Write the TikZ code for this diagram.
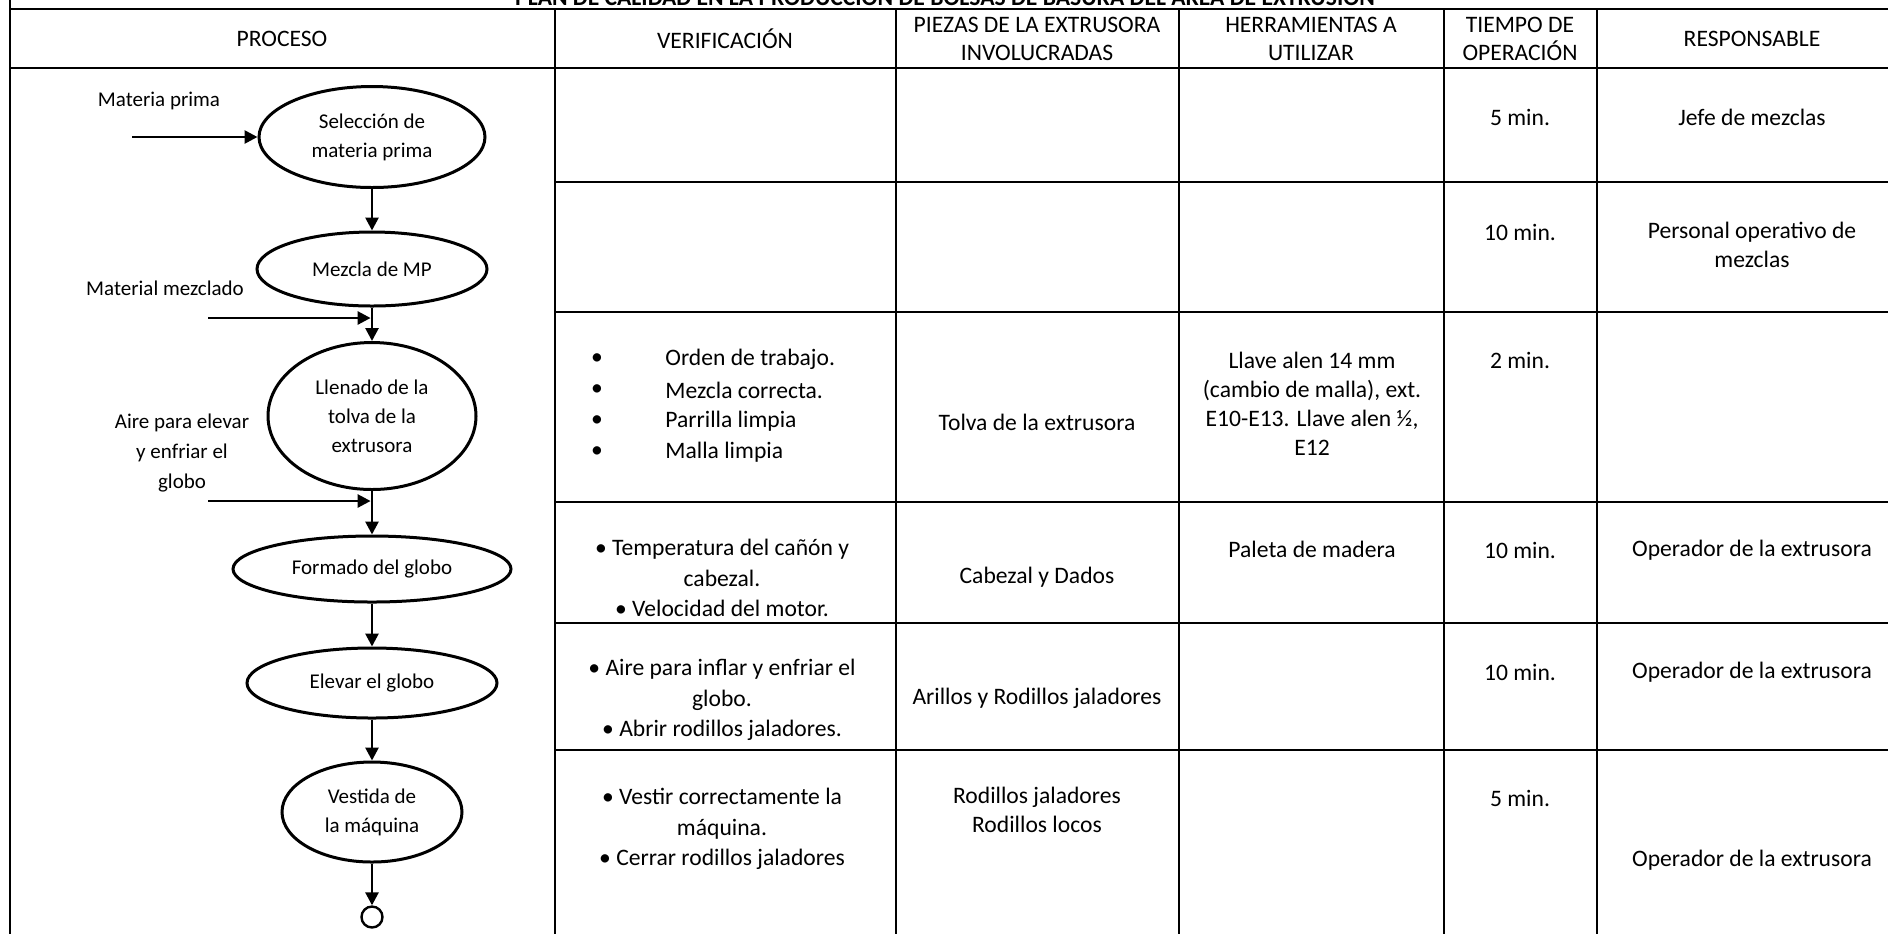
\documentclass[tikz,border=0pt]{standalone}
\usepackage{fontspec}
\setmainfont{Carlito}
\usetikzlibrary{shapes.geometric,arrows.meta}
\tikzstyle{etapa}=[draw=black,ellipse,line width=1.5pt,inner sep=0pt,align=center,font=\fontsize{10.5}{14.5}\selectfont]
\tikzstyle{etiq}=[align=center,inner sep=0pt,font=\fontsize{10.5}{15}\selectfont]
\tikzstyle{celda}=[align=center,inner sep=0pt,font=\fontsize{11.8}{14.5}\selectfont]
\tikzstyle{cabeza}=[align=center,inner sep=0pt,font=\fontsize{11.8}{14}\selectfont]
\tikzstyle{flecha}=[line width=1.35pt,-{Triangle[length=6.5pt,width=6.5pt]}]
\tikzstyle{regla}=[line width=1pt]

\begin{document}
\begin{tikzpicture}[x=0.5pt,y=-0.5pt]
	\useasboundingbox (0,0) rectangle (1888,934);
	\clip (0,0) rectangle (1888,934);

	% tabla
	\node[anchor=base,inner sep=0pt,font=\fontsize{11.8}{14}\selectfont\bfseries] (titulo) at (945,5)
		{PLAN DE CALIDAD EN LA PRODUCCIÓN DE BOLSAS DE BASURA DEL ÁREA DE EXTRUSIÓN};
	\draw[regla] (10,0) -- (10,934);
	\foreach \x in {555,896,1179,1444,1597} \draw[regla] (\x,9) -- (\x,934);
	\foreach \y in {9,68} \draw[regla] (10,\y) -- (1888,\y);
	\foreach \y in {182,312,502,623,750} \draw[regla] (555,\y) -- (1888,\y);

	\node[cabeza] (h1) at (282,39) {PROCESO};
	\node[cabeza] (h2) at (725,39) {VERIFICACIÓN};
	\node[cabeza] (h3) at (1037,39) {PIEZAS DE LA EXTRUSORA\\INVOLUCRADAS};
	\node[cabeza] (h4) at (1311,39) {HERRAMIENTAS A\\UTILIZAR};
	\node[cabeza] (h5) at (1520,39) {TIEMPO DE\\OPERACIÓN};
	\node[cabeza] (h6) at (1752,39) {RESPONSABLE};

	% columna del proceso
	\node[etapa,minimum width=113pt,minimum height=50.5pt] (sel) at (372,137) {Selección de\\materia prima};
	\node[etapa,minimum width=115pt,minimum height=37pt] (mez) at (372,269) {Mezcla de MP};
	\node[etapa,minimum width=104pt,minimum height=73.5pt] (llen) at (372,416) {Llenado de la\\tolva de la\\extrusora};
	\node[etapa,minimum width=139pt,minimum height=33pt] (form) at (372,569) {Formado del globo};
	\node[etapa,minimum width=125pt,minimum height=35pt] (elev) at (372,683) {Elevar el globo};
	\node[etapa,minimum width=90pt,minimum height=50pt] (vest) at (372,812) {Vestida de\\la máquina};
	\node[draw,circle,line width=1.2pt,minimum size=10.5pt,inner sep=0pt] (fin) at (372,917) {};

	\node[etiq] (l1) at (159,101) {Materia prima};
	\node[etiq] (l2) at (165,288) {Material mezclado};
	\node[etiq] (l3) at (182,453) {Aire para elevar\\y enfriar el\\globo};

	\coordinate (e1) at (132,137);
	\coordinate (e2) at (208,318);
	\coordinate (e3) at (208,501);

	\draw[flecha] (e1) -- (sel);
	\draw[flecha] (sel) -- (mez);
	\draw[flecha] (mez) -- (llen);
	\draw[flecha] (llen) -- (form);
	\draw[flecha] (form) -- (elev);
	\draw[flecha] (elev) -- (vest);
	\draw[flecha] (vest) -- (fin);
	\draw[flecha,shorten >=0.7pt] (e2) -- (e2 -| mez.south);
	\draw[flecha,shorten >=0.7pt] (e3) -- (e3 -| llen.south);

	% filas
	\node[celda] (t1) at (1520,117) {5 min.};
	\node[celda] (r1) at (1752,117) {Jefe de mezclas};

	\node[celda] (t2) at (1520,232) {10 min.};
	\node[celda] (r2) at (1752,245) {Personal operativo de\\mezclas};

	\foreach \t [count=\i] in {Orden de trabajo., Mezcla correcta., Parrilla limpia, Malla limpia}
	{
		\node[celda] (p\i) at (597,328+31*\i) {\textbullet};
		\node[celda,anchor=west] (v\i) at (665,328+31*\i) {\t};
	}
	\node[celda] (z3) at (1037,422) {Tolva de la extrusora};
	\node[celda] (q3) at (1312,404) {Llave alen 14 mm\\(cambio de malla), ext.\\E10-E13. Llave alen ½,\\E12};
	\node[celda] (t3) at (1520,360) {2 min.};

	\node[celda,font=\fontsize{11.8}{15.25}\selectfont] (v4) at (722,578) {\textbullet\ Temperatura del cañón y\\cabezal.\\\textbullet\ Velocidad del motor.};
	\node[celda] (z4) at (1037,577) {Cabezal y Dados};
	\node[celda] (q4) at (1312,549) {Paleta de madera};
	\node[celda] (t4) at (1520,550) {10 min.};
	\node[celda] (r4) at (1752,550) {Operador de la extrusora};

	\node[celda,font=\fontsize{11.8}{15.25}\selectfont] (v5) at (722,700) {\textbullet\ Aire para inflar y enfriar el\\globo.\\\textbullet\ Abrir rodillos jaladores.};
	\node[celda] (z5) at (1037,698) {Arillos y Rodillos jaladores};
	\node[celda] (t5) at (1520,672) {10 min.};
	\node[celda] (r5) at (1752,672) {Operador de la extrusora};

	\node[celda,font=\fontsize{11.8}{15.25}\selectfont] (v6) at (722,829) {\textbullet\ Vestir correctamente la\\máquina.\\\textbullet\ Cerrar rodillos jaladores};
	\node[celda] (z6) at (1037,810) {Rodillos jaladores\\Rodillos locos};
	\node[celda] (t6) at (1520,798) {5 min.};
	\node[celda] (r6) at (1752,860) {Operador de la extrusora};
\end{tikzpicture}
\end{document}
